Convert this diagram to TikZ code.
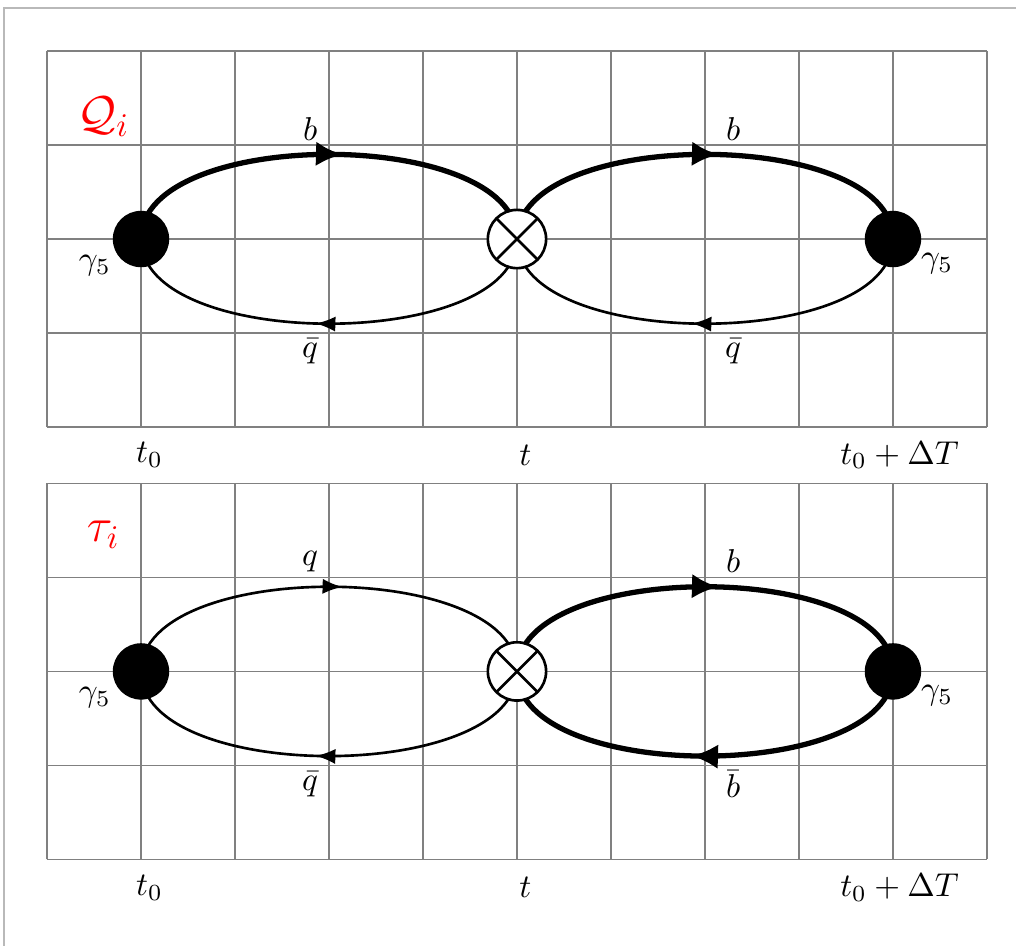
\documentclass[tikz,border=0pt]{standalone}
\usepackage{amsmath,amssymb,amsfonts}
\usepackage{xcolor}
\usepackage{tikz}
\usetikzlibrary{arrows.meta, decorations.markings}

\tikzset{
  prop/.style={thick, postaction={decorate},
    decoration={markings, mark=at position 0.53 with {\arrow{Latex[length=6pt,width=4.6pt]}}}},
  heavyprop/.style={ultra thick, postaction={decorate},
    decoration={markings, mark=at position 0.53 with {\arrow{Latex[length=8pt,width=7.5pt]}}}},
  srcdot/.style={circle, fill=black, minimum size=0.6cm, inner sep=0pt},
  insertion/.style={circle, draw, thick, fill=white, minimum size=0.62cm, inner sep=0pt,
    path picture={\draw[thick] (path picture bounding box.north west) -- (path picture bounding box.south east)
      (path picture bounding box.north east) -- (path picture bounding box.south west);}},
}

\begin{document}
\begin{tikzpicture}
\useasboundingbox (-0.5,-5.521) rectangle (10.309,4.543);
\draw[gray!55, line width=0.6pt] (10.309,4.463) -- (-0.457,4.463) -- (-0.457,-5.521);

% Q_i correlator
\draw[gray, line width=0.4pt] (0,0) grid (10,4);
\coordinate (src1) at (1,2);
\coordinate (ins1) at (5,2);
\coordinate (snk1) at (9,2);

\draw[heavyprop] (src1) to[out=90, in=90, looseness=0.77] (ins1);
\draw[prop] (ins1) to[out=-90, in=-90, looseness=0.77] (src1);
\draw[heavyprop] (ins1) to[out=90, in=90, looseness=0.77] (snk1);
\draw[prop] (snk1) to[out=-90, in=-90, looseness=0.77] (ins1);

\node[srcdot] (dotL1) at (src1) {};
\node[insertion] (op1) at (ins1) {};
\node[srcdot] (dotR1) at (snk1) {};

\node[font=\Large, text=red] (name1) at (0.6, 3.3) {$\mathcal{Q}_i$};
\node (qa1) at (2.8, 3.17) {$b$};
\node (qb1) at (2.8, 0.8) {$\bar{q}$};
\node (qc1) at (7.3, 3.17) {$b$};
\node (qd1) at (7.3, 0.8) {$\bar{q}$};
\node (gL1) at (0.51, 1.72) {$\gamma_5$};
\node (gR1) at (9.47, 1.74) {$\gamma_5$};

\node (tA1) at (1.09, -0.3) {$t_0$};
\node (tB1) at (5.09, -0.3) {$t$};
\node (tC1) at (9.07, -0.3) {$t_0+\Delta T$};

% tau_i correlator
\begin{scope}[yshift=-4.6cm]
\draw[gray, line width=0.4pt] (0,0) grid (10,4);
\coordinate (src2) at (1,2);
\coordinate (ins2) at (5,2);
\coordinate (snk2) at (9,2);

\draw[prop] (src2) to[out=90, in=90, looseness=0.77] (ins2);
\draw[prop] (ins2) to[out=-90, in=-90, looseness=0.77] (src2);
\draw[heavyprop] (ins2) to[out=90, in=90, looseness=0.77] (snk2);
\draw[heavyprop] (snk2) to[out=-90, in=-90, looseness=0.77] (ins2);

\node[srcdot] (dotL2) at (src2) {};
\node[insertion] (op2) at (ins2) {};
\node[srcdot] (dotR2) at (snk2) {};

\node[font=\Large, text=red] (name2) at (0.6, 3.45) {$\tau_i$};
\node (qa2) at (2.8, 3.17) {$q$};
\node (qb2) at (2.8, 0.8) {$\bar{q}$};
\node (qc2) at (7.3, 3.17) {$b$};
\node (qd2) at (7.3, 0.8) {$\bar{b}$};
\node (gL2) at (0.51, 1.72) {$\gamma_5$};
\node (gR2) at (9.47, 1.74) {$\gamma_5$};

\node (tA2) at (1.09, -0.3) {$t_0$};
\node (tB2) at (5.09, -0.3) {$t$};
\node (tC2) at (9.07, -0.3) {$t_0+\Delta T$};
\end{scope}

\end{tikzpicture}
\end{document}
